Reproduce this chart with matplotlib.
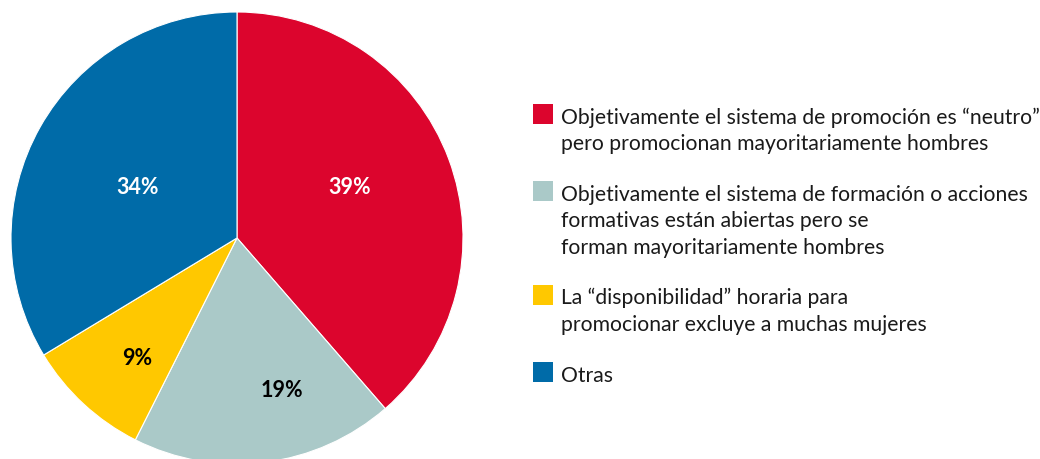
import matplotlib
matplotlib.use("Agg")
import matplotlib.pyplot as plt
from matplotlib.patches import Rectangle

plt.rcParams['font.family'] = ['Lato', 'DejaVu Sans']

categories = [
    "Objetivamente el sistema de promoción es “neutro”\npero promocionan mayoritariamente hombres",
    "Objetivamente el sistema de formación o acciones\nformativas están abiertas pero se\nforman mayoritariamente hombres",
    "La “disponibilidad” horaria para\npromocionar excluye a muchas mujeres",
    "Otras",
]
values = [39, 19, 9, 34]
pct_labels = ["39%", "19%", "9%", "34%"]
colors = ["#DC052D", "#AAC9C8", "#FFC800", "#006BA8"]
label_colors = ["white", "black", "black", "white"]

W, H = 1040, 460
fig = plt.figure(figsize=(W / 100, H / 100), dpi=100)

# pie axes: centre (237, 239) px, radius 226 px
cx, cy, R = 237, 239, 226
ax = fig.add_axes([(cx - R) / W, (H - cy - R) / H, 2 * R / W, 2 * R / H])
wedges, _ = ax.pie(values, colors=colors, startangle=90, counterclock=False,
                   radius=1, wedgeprops=dict(edgecolor="white", linewidth=0.8))
ax.set_xlim(-1, 1)
ax.set_ylim(-1, 1)
ax.set_aspect("equal")
ax.axis("off")

label_xy = [(0.50, 0.23), (0.20, -0.67), (-0.44, -0.53), (-0.44, 0.23)]
for (lx, ly), txt, c in zip(label_xy, pct_labels, label_colors):
    ax.text(lx, ly, txt, ha="center", va="center", color=c,
            fontsize=15.5, fontweight="bold")

# legend drawn manually (square aligned with first line)
px = lambda x, y: (x / W, 1 - y / H)
baseline = 124
line_h = 26.5
gap = 24
for lab, col in zip(categories, colors):
    lines = lab.split("\n")
    fig.patches.append(Rectangle(px(533, baseline + 1), 20 / W, 20 / H,
                                 transform=fig.transFigure, facecolor=col,
                                 edgecolor="none"))
    for i, ln in enumerate(lines):
        tx, ty = px(561, baseline + i * line_h)
        fig.text(tx, ty, ln, ha="left", va="baseline", fontsize=15.2,
                 color="#1a1a1a")
    baseline += len(lines) * line_h + gap

fig.savefig("out.png", dpi=100)
